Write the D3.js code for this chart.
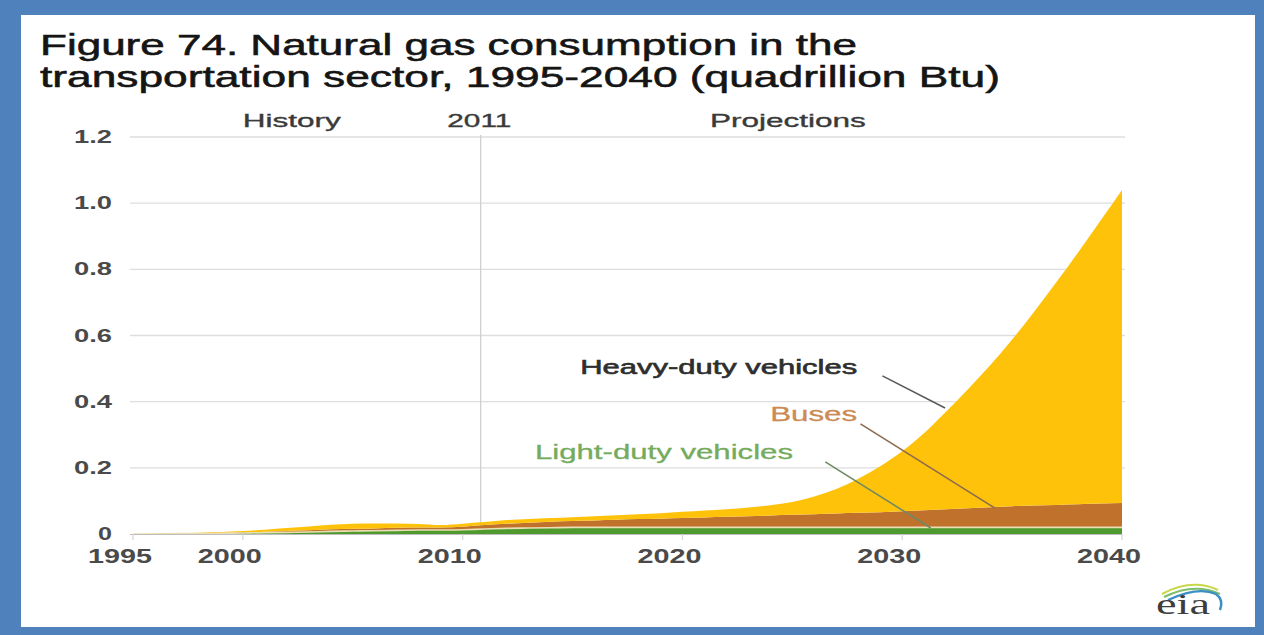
<!DOCTYPE html>
<html>
<head>
<meta charset="utf-8">
<script src="https://cdn.jsdelivr.net/npm/d3@7/dist/d3.min.js"></script>
<style>
  html, body { margin: 0; padding: 0; background: #ffffff; }
  svg { display: block; font-family: "Liberation Sans", Arial, sans-serif; }
</style>
</head>
<body>
<svg id="chart" width="1264" height="635"></svg>
<script>
// Natural gas consumption in the transportation sector (quadrillion Btu)
const years = d3.range(1995, 2041);

const lightDuty = [
  0.000, 0.000, 0.001, 0.001, 0.002, 0.003, 0.004, 0.005, 0.006, 0.008,
  0.009, 0.010, 0.011, 0.012, 0.012, 0.013, 0.015, 0.017, 0.018, 0.019,
  0.020, 0.020, 0.020, 0.020, 0.020, 0.020, 0.020, 0.020, 0.020, 0.020,
  0.020, 0.020, 0.020, 0.020, 0.020, 0.020, 0.020, 0.020, 0.020, 0.020,
  0.020, 0.020, 0.020, 0.020, 0.020, 0.020
];

const buses = [
  0.000, 0.000, 0.001, 0.001, 0.002, 0.002, 0.003, 0.004, 0.005, 0.006,
  0.007, 0.007, 0.008, 0.008, 0.008, 0.009, 0.012, 0.014, 0.016, 0.018,
  0.019, 0.021, 0.023, 0.025, 0.026, 0.028, 0.030, 0.032, 0.034, 0.036,
  0.038, 0.040, 0.042, 0.044, 0.046, 0.049, 0.052, 0.055, 0.058, 0.061,
  0.064, 0.066, 0.068, 0.070, 0.072, 0.074
];

const heavyDuty = [
  0.000, 0.001, 0.001, 0.002, 0.002, 0.004, 0.006, 0.009, 0.012, 0.014,
  0.015, 0.015, 0.013, 0.010, 0.007, 0.009, 0.009, 0.011, 0.011, 0.011,
  0.012, 0.013, 0.014, 0.015, 0.017, 0.019, 0.021, 0.023, 0.026, 0.031,
  0.039, 0.053, 0.074, 0.103, 0.139, 0.181, 0.233, 0.295, 0.360, 0.429,
  0.504, 0.586, 0.672, 0.761, 0.853, 0.946
];

const seriesNames = ["Light-duty vehicles", "Buses", "Heavy-duty vehicles"];
const seriesColors = ["#4e9a2f", "#c0712c", "#ffc20a"];

const yTicks = [0, 0.2, 0.4, 0.6, 0.8, 1.0, 1.2];
const yTickLabels = ["0", "0.2", "0.4", "0.6", "0.8", "1.0", "1.2"];
const xTicks = [1995, 2000, 2010, 2020, 2030, 2040];

const titleLines = [
  "Figure 74. Natural gas consumption in the",
  "transportation sector, 1995-2040 (quadrillion Btu)"
];

const rows = years.map((yr, i) => ({
  year: yr,
  "Light-duty vehicles": lightDuty[i],
  "Buses": buses[i],
  "Heavy-duty vehicles": heavyDuty[i]
}));

const svg = d3.select("#chart");
const W = 1264, H = 635;

// page frame
svg.append("rect").attr("x", 0).attr("y", 0).attr("width", W).attr("height", H).attr("fill", "#4f81bd");
svg.append("rect").attr("x", 21).attr("y", 15).attr("width", 1234).attr("height", 612).attr("fill", "#ffffff");

const x = d3.scaleLinear().domain([1995, 2040]).range([133, 1122]);
const y = d3.scaleLinear().domain([0, 1.2]).range([534, 137]);

// title
const title = svg.append("g").attr("fill", "#151515").attr("stroke", "#151515")
  .attr("stroke-width", 0.55).attr("font-size", 29);
title.append("text").attr("x", 40).attr("y", 55)
  .attr("textLength", 817).attr("lengthAdjust", "spacingAndGlyphs").text(titleLines[0]);
title.append("text").attr("x", 40).attr("y", 87)
  .attr("textLength", 960).attr("lengthAdjust", "spacingAndGlyphs").text(titleLines[1]);

// horizontal gridlines
svg.append("g").selectAll("line").data(yTicks.filter(d => d > 0)).join("line")
  .attr("x1", 130).attr("x2", 1125)
  .attr("y1", d => y(d)).attr("y2", d => y(d))
  .attr("stroke", "#dedede").attr("stroke-width", 1.3);

// history / projections divider
svg.append("line")
  .attr("x1", x(2011) - 4).attr("x2", x(2011) - 4)
  .attr("y1", y(1.2) - 2).attr("y2", y(0))
  .attr("stroke", "#d0d0d0").attr("stroke-width", 1.3);

// stacked areas
const stack = d3.stack().keys(seriesNames);
const layers = stack(rows);
const area = d3.area()
  .x(d => x(d.data.year))
  .y0(d => y(d[0]))
  .y1(d => y(d[1]))
  .curve(d3.curveMonotoneX);

svg.append("g").selectAll("path").data(layers).join("path")
  .attr("d", area)
  .attr("fill", (d, i) => seriesColors[i]);

// thin light seam on top of the light-duty layer
svg.append("path")
  .datum(layers[0])
  .attr("d", d3.line().x(d => x(d.data.year)).y(d => y(d[1])).curve(d3.curveMonotoneX))
  .attr("fill", "none").attr("stroke", "#eadfb4").attr("stroke-width", 1.6);

// baseline and ticks
svg.append("line").attr("x1", 130).attr("x2", x(2040))
  .attr("y1", y(0) + 0.5).attr("y2", y(0) + 0.5)
  .attr("stroke", "#bdbdbd").attr("stroke-width", 1);
svg.append("g").selectAll("line").data(xTicks).join("line")
  .attr("x1", d => x(d)).attr("x2", d => x(d))
  .attr("y1", y(0)).attr("y2", y(0) + 6)
  .attr("stroke", "#d6d6d6").attr("stroke-width", 1.2);

// y tick labels
svg.append("g").selectAll("text").data(yTicks).join("text")
  .attr("x", 112).attr("y", d => y(d) + 6)
  .attr("text-anchor", "end")
  .attr("font-size", 18).attr("font-weight", "bold").attr("fill", "#4a4a4a")
  .attr("textLength", (d, i) => yTickLabels[i].length === 1 ? 14 : 38)
  .attr("lengthAdjust", "spacingAndGlyphs")
  .text((d, i) => yTickLabels[i]);

// x tick labels
svg.append("g").selectAll("text").data(xTicks).join("text")
  .attr("x", d => x(d) - 13 - 32).attr("y", 563)
  .attr("font-size", 20).attr("font-weight", "bold").attr("fill", "#4a4a4a")
  .attr("textLength", 64).attr("lengthAdjust", "spacingAndGlyphs")
  .text(d => d);

// period headers
const headers = [
  { text: "History", year: 2000.0, w: 98 },
  { text: "2011", year: 2009.3, w: 64 },
  { text: "Projections", year: 2021.25, w: 156 }
];
svg.append("g").attr("stroke", "#3a3a3a").attr("stroke-width", 0.35)
  .selectAll("text").data(headers).join("text")
  .attr("x", d => x(d.year)).attr("y", 127)
  .attr("font-size", 19).attr("fill", "#3a3a3a")
  .attr("textLength", d => d.w).attr("lengthAdjust", "spacingAndGlyphs")
  .text(d => d.text);

// series labels with leader lines (positions in data units)
const notes = [
  { text: seriesNames[2], color: "#2e2e2e", line: "#5a5a5a", tx: 2027.95, ty: 0.484, w: 277, sw: 0.6,
    from: [2029.1, 0.478], to: [2031.95, 0.381] },
  { text: seriesNames[1], color: "#cc8a55", line: "#8d6a4e", tx: 2027.95, ty: 0.342, w: 87, sw: 0.3,
    from: [2028.1, 0.333], to: [2034.2, 0.079] },
  { text: seriesNames[0], color: "#74ab5c", line: "#6f8a62", tx: 2025.03, ty: 0.227, w: 258, sw: 0.3,
    from: [2026.5, 0.218], to: [2031.3, 0.018] }
];
const ng = svg.append("g");
ng.selectAll("line").data(notes).join("line")
  .attr("x1", d => x(d.from[0])).attr("y1", d => y(d.from[1]))
  .attr("x2", d => x(d.to[0])).attr("y2", d => y(d.to[1]))
  .attr("stroke", d => d.line).attr("stroke-width", 1.6);
ng.selectAll("text").data(notes).join("text")
  .attr("x", d => x(d.tx)).attr("y", d => y(d.ty))
  .attr("text-anchor", "end")
  .attr("font-size", 20).attr("fill", d => d.color)
  .attr("stroke", d => d.color).attr("stroke-width", d => d.sw)
  .attr("textLength", d => d.w).attr("lengthAdjust", "spacingAndGlyphs")
  .text(d => d.text);

// eia logo
const logo = svg.append("g").attr("transform", "translate(10,0)");
logo.append("path").attr("d", "M1152,594 Q1182,578 1208,590")
  .attr("fill", "none").attr("stroke", "#c9d84a").attr("stroke-width", 2);
logo.append("path").attr("d", "M1154,597 Q1184,582 1210,594")
  .attr("fill", "none").attr("stroke", "#7dbf6a").attr("stroke-width", 2);
logo.append("path").attr("d", "M1158,600 Q1188,586 1206,594 Q1214,600 1210,610")
  .attr("fill", "none").attr("stroke", "#3a8fc4").attr("stroke-width", 2.4);
logo.append("text").attr("x", 1146).attr("y", 614)
  .attr("font-family", "'Liberation Serif', 'DejaVu Serif', serif")
  .attr("font-size", 30).attr("fill", "#3d3d3d")
  .attr("textLength", 54).attr("lengthAdjust", "spacingAndGlyphs")
  .text("eia");
</script>
</body>
</html>
